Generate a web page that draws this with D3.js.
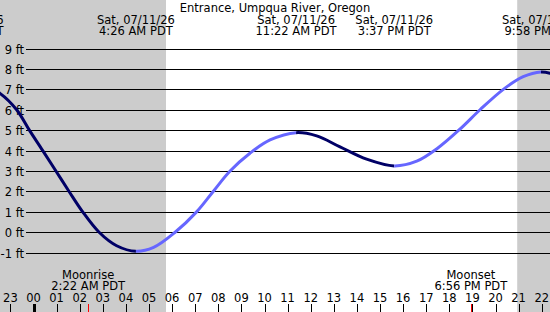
<!DOCTYPE html>
<html><head><meta charset="utf-8">
<script src="https://cdn.jsdelivr.net/npm/d3@7"></script>
<style>
html,body{margin:0;padding:0;background:#fff;}
svg{display:block;font-family:"DejaVu Sans",sans-serif;}
</style></head>
<body>
<svg id="c" width="550" height="312"></svg>
<script>
// ---- data (hours relative to Sat 07/11/26 00:00 PDT) ----
const title = "Entrance, Umpqua River, Oregon";
const curveHours   = [-2.87, -1.45, -0.73, -0.18, 0.40, 0.97, 1.54, 2.13, 2.84, 3.6, 4.433, 5.2, 6.13, 7.06, 7.78, 8.51, 9.37, 10.24, 11.367, 12.26, 13.27, 14.42, 15.617, 16.59, 17.45, 18.46, 19.33, 20.34, 21.2, 21.967, 22.36, 23.0];
const curveHeights = [7.6, 6.8, 6.0, 5.0, 4.0, 3.0, 2.0, 1.0, 0.0, -0.66, -0.93, -0.74, 0.0, 1.0, 2.0, 3.0, 3.87, 4.52, 4.88, 4.72, 4.18, 3.58, 3.25, 3.48, 4.08, 5.05, 6.0, 7.0, 7.62, 7.85, 7.79, 7.5];
const eventHours = [-2.87, 4.433, 11.367, 15.617, 21.967];
const eventDates = ["Fri, 07/10/26", "Sat, 07/11/26", "Sat, 07/11/26", "Sat, 07/11/26", "Sat, 07/11/26"];
const eventTimes = ["9:08 PM PDT", "4:26 AM PDT", "11:22 AM PDT", "3:37 PM PDT", "9:58 PM PDT"];
const heightTicks = [-1, 0, 1, 2, 3, 4, 5, 6, 7, 8, 9];
const hourTicks = [-1, 0, 1, 2, 3, 4, 5, 6, 7, 8, 9, 10, 11, 12, 13, 14, 15, 16, 17, 18, 19, 20, 21, 22];
const hourLabels = ["23","00","01","02","03","04","05","06","07","08","09","10","11","12","13","14","15","16","17","18","19","20","21","22"];
const sunrise = 5.736, sunset = 20.94;
const moonHours = [2.367, 18.933];
const moonNames = ["Moonrise", "Moonset"];
const moonTimes = ["2:22 AM PDT", "6:56 PM PDT"];

// ---- drawing ----
const W = 550, H = 312;
const svg = d3.select("#c");
const x = d3.scaleLinear().domain([0, 22]).range([33.5, 541.7]);
const y = d3.scaleLinear().domain([-1, 9]).range([252.7, 48.5]);
const FS = "11.5px";

// night shading
svg.append("rect").attr("x", 0).attr("y", 0).attr("width", x(sunrise)).attr("height", H).attr("fill", "#cccccc");
svg.append("rect").attr("x", x(sunset)).attr("y", 0).attr("width", W - x(sunset)).attr("height", H).attr("fill", "#cccccc");

// gridlines + y labels
const gy = svg.append("g");
heightTicks.forEach(v => {
  const yy = Math.round(y(v)) + 0.5;
  gy.append("line").attr("x1", 26).attr("x2", W).attr("y1", yy).attr("y2", yy)
    .attr("stroke", "#000").attr("stroke-width", 1);
  gy.append("text").attr("x", 24).attr("y", yy).attr("dy", "0.36em")
    .attr("text-anchor", "end").attr("font-size", FS).attr("fill", "#000").text(v + " ft");
});

// tide curve: one smooth path, clipped per segment between extremes (falling dark, rising light)
const pts = curveHours.map((h, i) => [h, curveHeights[i]]);
const line = d3.line().x(d => x(d[0])).y(d => y(d[1])).curve(d3.curveCatmullRom.alpha(0.5));
const ext = eventHours.concat([curveHours[curveHours.length - 1]]);
const defs = svg.append("defs");
for (let i = 0; i < ext.length - 1; i++) {
  const a = ext[i], b = ext[i + 1];
  const ia = curveHours.indexOf(a), ib = curveHours.indexOf(b);
  const rising = curveHeights[ib] > curveHeights[ia];
  const id = "seg" + i;
  defs.append("clipPath").attr("id", id).append("rect")
    .attr("x", x(a)).attr("y", 0).attr("width", x(b) - x(a)).attr("height", H);
  svg.append("path").datum(pts).attr("d", line).attr("clip-path", `url(#${id})`)
    .attr("fill", "none").attr("stroke", rising ? "#6666ff" : "#000066")
    .attr("stroke-width", 3);
}

// title & event labels
svg.append("text").attr("x", W / 2).attr("y", 12).attr("text-anchor", "middle")
  .attr("font-size", FS).attr("fill", "#000").text(title);
eventHours.forEach((h, i) => {
  svg.append("text").attr("x", x(h)).attr("y", 23.5).attr("text-anchor", "middle")
    .attr("font-size", FS).attr("fill", "#000").text(eventDates[i]);
  svg.append("text").attr("x", x(h)).attr("y", 35).attr("text-anchor", "middle")
    .attr("font-size", FS).attr("fill", "#000").text(eventTimes[i]);
});

// moon labels
moonHours.forEach((h, i) => {
  svg.append("text").attr("x", x(h)).attr("y", 278.5).attr("text-anchor", "middle")
    .attr("font-size", FS).attr("fill", "#000").text(moonNames[i]);
  svg.append("text").attr("x", x(h)).attr("y", 290).attr("text-anchor", "middle")
    .attr("font-size", FS).attr("fill", "#000").text(moonTimes[i]);
});

// hour axis
hourTicks.forEach((h, i) => {
  const xx = Math.round(x(h)) + 0.5;
  svg.append("text").attr("x", x(h)).attr("y", 301.5).attr("text-anchor", "middle")
    .attr("font-size", FS).attr("fill", "#000").text(hourLabels[i]);
  svg.append("line").attr("x1", xx).attr("x2", xx).attr("y1", 304).attr("y2", H)
    .attr("stroke", "#000").attr("stroke-width", h === 0 ? 3 : 1);
});
moonHours.forEach(h => {
  const xx = Math.round(x(h)) + 0.5;
  svg.append("line").attr("x1", xx).attr("x2", xx).attr("y1", 304).attr("y2", H)
    .attr("stroke", "#ff0000").attr("stroke-width", 1);
});
</script>
</body></html>
